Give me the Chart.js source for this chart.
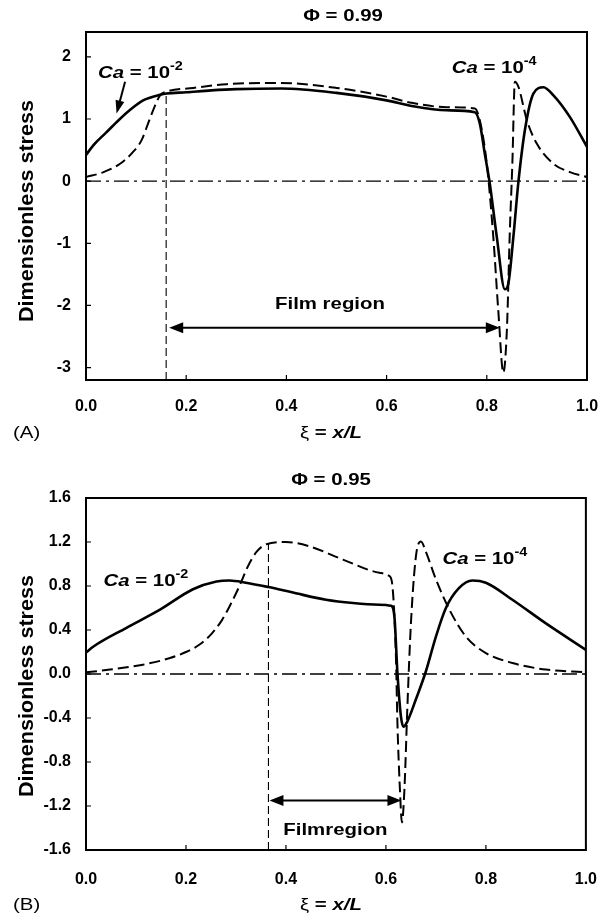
<!DOCTYPE html>
<html>
<head>
<meta charset="utf-8">
<script src="https://cdn.jsdelivr.net/npm/chart.js@4/dist/chart.umd.min.js"></script>
<style>
  body { margin: 0; background: #fff; }
  .panel { position: absolute; left: 0; width: 609px; height: 460px; }
</style>
</head>
<body>
<div class="panel" style="top:0"><canvas id="chartA" width="609" height="460"></canvas></div>
<div class="panel" style="top:460px"><canvas id="chartB" width="609" height="460"></canvas></div>
<script>
// ---- data ----
const xTicks = [0, 0.2, 0.4, 0.6, 0.8, 1.0];
const yTicksA = [-3, -2, -1, 0, 1, 2];
const yTicksB = [-1.6, -1.2, -0.8, -0.4, 0, 0.4, 0.8, 1.2, 1.6];

// (A) phi = 0.99
const solidAX = [0, 0.015, 0.04, 0.065, 0.09, 0.114, 0.148, 0.161, 0.2, 0.25, 0.3, 0.39, 0.5, 0.6, 0.65, 0.72, 0.776, 0.786, 0.796, 0.806, 0.82, 0.836, 0.843, 0.853, 0.863, 0.876, 0.893, 0.913, 0.933, 0.966, 1.0];
const solidAY = [0.42, 0.58, 0.78, 0.98, 1.16, 1.30, 1.39, 1.41, 1.43, 1.46, 1.48, 1.49, 1.42, 1.30, 1.21, 1.14, 1.11, 0.93, 0.44, -0.04, -0.90, -1.74, -1.65, -0.90, -0.02, 0.82, 1.41, 1.51, 1.38, 1.03, 0.55];
const dashAX = [0, 0.035, 0.068, 0.094, 0.111, 0.124, 0.138, 0.148, 0.161, 0.214, 0.281, 0.387, 0.5, 0.6, 0.65, 0.72, 0.776, 0.786, 0.80, 0.813, 0.823, 0.833, 0.84, 0.846, 0.851, 0.856, 0.863, 0.88, 0.90, 0.933, 0.966, 1.0];
const dashAY = [0.065, 0.145, 0.28, 0.47, 0.66, 0.93, 1.22, 1.38, 1.44, 1.50, 1.56, 1.58, 1.50, 1.36, 1.26, 1.19, 1.17, 0.98, 0.28, -0.90, -2.09, -3.08, -2.41, -0.80, 0.28, 1.60, 1.52, 0.98, 0.60, 0.28, 0.145, 0.065];

// (B) phi = 0.95
const solidBX = [0, 0.015, 0.081, 0.148, 0.214, 0.261, 0.287, 0.32, 0.365, 0.414, 0.48, 0.534, 0.587, 0.61, 0.617, 0.623, 0.63, 0.635, 0.643, 0.66, 0.68, 0.70, 0.72, 0.746, 0.773, 0.80, 0.853, 0.92, 1.0];
const solidBY = [0.196, 0.25, 0.42, 0.585, 0.77, 0.84, 0.85, 0.83, 0.79, 0.74, 0.675, 0.645, 0.63, 0.62, 0.52, 0.01, -0.385, -0.48, -0.43, -0.23, 0.025, 0.34, 0.60, 0.78, 0.85, 0.83, 0.675, 0.46, 0.22];
const dashBX = [0, 0.048, 0.114, 0.168, 0.2, 0.228, 0.252, 0.272, 0.29, 0.307, 0.324, 0.341, 0.361, 0.40, 0.447, 0.514, 0.587, 0.607, 0.613, 0.62, 0.623, 0.628, 0.632, 0.637, 0.643, 0.65, 0.66, 0.67, 0.68, 0.70, 0.727, 0.76, 0.80, 0.853, 0.92, 1.0];
const dashBY = [0.015, 0.04, 0.085, 0.145, 0.20, 0.27, 0.37, 0.49, 0.64, 0.80, 0.98, 1.11, 1.18, 1.20, 1.16, 1.04, 0.92, 0.89, 0.80, 0.16, -0.445, -1.05, -1.35, -1.05, -0.29, 0.46, 1.07, 1.205, 1.11, 0.86, 0.585, 0.34, 0.19, 0.10, 0.04, 0.015];

// film region boundaries [x start, x end, arrow height] and guide line [x, top y]
const filmA = [0.166, 0.826, -2.36];
const filmB = [0.367, 0.631, -1.15];
const guideA = [0.16, 1.40];
const guideB = [0.365, 1.19];

const FONT = '"Liberation Sans", Arial, Helvetica, sans-serif';
const SX = 1.2; // the source lettering is a bit wide
Chart.defaults.font.family = FONT;
Chart.defaults.color = '#000';

function pts(xs, ys) { return xs.map((x, i) => ({ x: x, y: ys[i] })); }

// draws a run of text pieces, stretched horizontally like the original
function richText(ctx, parts, x, y, align) {
  ctx.save();
  ctx.textBaseline = 'alphabetic';
  let total = 0;
  parts.forEach(p => { ctx.font = p.font; p.w = ctx.measureText(p.s).width * SX; total += p.w; });
  let cx = align === 'center' ? x - total / 2 : x;
  parts.forEach(p => {
    ctx.save();
    ctx.font = p.font;
    ctx.translate(cx, y + (p.dy || 0));
    ctx.scale(SX, 1);
    ctx.fillText(p.s, 0, 0);
    ctx.restore();
    cx += p.w;
  });
  ctx.restore();
}

function arrowHead(ctx, x1, y1, x2, y2, len, half) {
  const a = Math.atan2(y2 - y1, x2 - x1);
  ctx.beginPath();
  ctx.moveTo(x2, y2);
  ctx.lineTo(x2 - len * Math.cos(a) + half * Math.sin(a), y2 - len * Math.sin(a) - half * Math.cos(a));
  ctx.lineTo(x2 - len * Math.cos(a) - half * Math.sin(a), y2 - len * Math.sin(a) + half * Math.cos(a));
  ctx.closePath();
  ctx.fill();
}

const caLabel = (exp) => [
  { s: 'Ca', font: 'italic bold 17px ' + FONT },
  { s: ' = 10', font: 'bold 17px ' + FONT },
  { s: exp, font: 'bold 12px ' + FONT, dy: -8 }
];

const panelPlugin = {
  id: 'panel',
  afterDraw(chart) {
    const o = chart.options.plugins.panel;
    const ctx = chart.ctx;
    const xs = chart.scales.x, ys = chart.scales.y;
    const ca = chart.chartArea;
    ctx.save();
    ctx.fillStyle = '#000';
    ctx.strokeStyle = '#000';

    // frame and inward ticks
    ctx.lineWidth = 2;
    ctx.strokeRect(ca.left, ca.top, ca.right - ca.left, ca.bottom - ca.top);
    ctx.lineWidth = 1.2;
    ctx.beginPath();
    xs.ticks.forEach(t => { const p = xs.getPixelForValue(t.value); ctx.moveTo(p, ca.bottom); ctx.lineTo(p, ca.bottom - 5); });
    ys.ticks.forEach(t => { const p = ys.getPixelForValue(t.value); ctx.moveTo(ca.left, p); ctx.lineTo(ca.left + 5, p); });
    ctx.stroke();

    // film region double arrow
    const fy = ys.getPixelForValue(o.film[2]);
    const fx1 = xs.getPixelForValue(o.film[0]), fx2 = xs.getPixelForValue(o.film[1]);
    ctx.lineWidth = 2;
    ctx.beginPath(); ctx.moveTo(fx1 + 6, fy); ctx.lineTo(fx2 - 6, fy); ctx.stroke();
    arrowHead(ctx, fx2, fy, fx1, fy, 14, 5.5);
    arrowHead(ctx, fx1, fy, fx2, fy, 14, 5.5);

    // titles and labels
    richText(ctx, [{ s: 'Φ', font: 'bold 17px ' + FONT }, { s: ' = ' + o.phi, font: 'bold 17px ' + FONT }], o.titleX, o.titleY, 'center');
    richText(ctx, [{ s: '(' + o.tag + ')', font: '17px ' + FONT }], 13, o.xTitleY, 'left');
    richText(ctx, [
      { s: 'ξ', font: '17px ' + FONT },
      { s: ' = ', font: 'bold 17px ' + FONT },
      { s: 'x/L', font: 'italic bold 17px ' + FONT }
    ], 331, o.xTitleY, 'center');

    ctx.save();
    ctx.translate(27, o.yTitleY);
    ctx.rotate(-Math.PI / 2);
    ctx.font = 'bold 20px ' + FONT;
    ctx.textBaseline = 'middle';
    const sy = 1.08;
    const w = ctx.measureText('Dimensionless stress').width * sy;
    ctx.scale(sy, 1);
    ctx.fillText('Dimensionless stress', -w / 2 / sy, 0);
    ctx.restore();

    o.labels.forEach(l => {
      richText(ctx, l.parts, xs.getPixelForValue(l.x), ys.getPixelForValue(l.y), l.align || 'left');
    });

    if (o.pointer) {
      const p = o.pointer;
      const x1 = xs.getPixelForValue(p[0]), y1 = ys.getPixelForValue(p[1]);
      const x2 = xs.getPixelForValue(p[2]), y2 = ys.getPixelForValue(p[3]);
      ctx.lineWidth = 2;
      ctx.beginPath(); ctx.moveTo(x1, y1); ctx.lineTo(x2 + (x1 - x2) * 0.3, y2 + (y1 - y2) * 0.3); ctx.stroke();
      arrowHead(ctx, x1, y1, x2, y2, 13, 4.5);
    }
    ctx.restore();
  }
};

function makeChart(id, c) {
  const line = (data, extra) => Object.assign({
    data: data, borderColor: '#000', pointRadius: 0, fill: false, tension: 0
  }, extra);
  return new Chart(document.getElementById(id), {
    type: 'line',
    data: {
      datasets: [
        line(pts([0, 1], [0, 0]), { borderWidth: 1.3, borderDash: [15, 5, 3, 5] }),
        line(pts([c.guide[0], c.guide[0]], [c.yMin, c.guide[1]]), { borderWidth: 1.1, borderDash: [8, 4] }),
        line(pts(c.solidX, c.solidY), { borderWidth: 2.6, cubicInterpolationMode: 'monotone' }),
        line(pts(c.dashX, c.dashY), { borderWidth: 2, borderDash: [11, 5], cubicInterpolationMode: 'monotone' })
      ]
    },
    options: {
      responsive: false,
      animation: false,
      events: [],
      layout: { padding: { top: c.padTop, right: 22, left: 0, bottom: 0 } },
      scales: {
        x: {
          type: 'linear', min: 0, max: 1,
          grid: { display: false }, border: { display: false },
          afterBuildTicks: s => { s.ticks = xTicks.map(v => ({ value: v })); },
          afterFit: s => { s.height = c.xHeight; },
          ticks: { font: { size: 16, weight: 'bold' }, padding: c.xPad, maxRotation: 0, callback: v => v.toFixed(1) }
        },
        y: {
          type: 'linear', min: c.yMin, max: c.yMax,
          grid: { display: false }, border: { display: false },
          afterBuildTicks: s => { s.ticks = c.yTicks.map(v => ({ value: v })); },
          afterFit: s => { s.width = 86; },
          ticks: { font: { size: 16, weight: 'bold' }, padding: 7, callback: v => c.yFmt(v) }
        }
      },
      plugins: {
        legend: { display: false },
        tooltip: { enabled: false },
        panel: c.panel
      }
    },
    plugins: [panelPlugin]
  });
}

makeChart('chartA', {
  solidX: solidAX, solidY: solidAY, dashX: dashAX, dashY: dashAY,
  guide: guideA, yMin: -3.2, yMax: 2.4, yTicks: yTicksA, yFmt: v => String(Math.round(v)),
  padTop: 32, xHeight: 80, xPad: 9,
  panel: {
    phi: '0.99', tag: 'A', titleX: 343, titleY: 21, xTitleY: 438, yTitleY: 211,
    film: filmA,
    pointer: [0.078, 1.60, 0.061, 1.09],
    labels: [
      { parts: caLabel('-2'), x: 0.024, y: 1.656 },
      { parts: caLabel('-4'), x: 0.73, y: 1.74 },
      { parts: [{ s: 'Film region', font: 'bold 17px ' + FONT }], x: 0.487, y: -2.06, align: 'center' }
    ]
  }
});

makeChart('chartB', {
  solidX: solidBX, solidY: solidBY, dashX: dashBX, dashY: dashBY,
  guide: guideB, yMin: -1.6, yMax: 1.6, yTicks: yTicksB, yFmt: v => v.toFixed(1),
  padTop: 38, xHeight: 70, xPad: 12,
  panel: {
    phi: '0.95', tag: 'B', titleX: 331, titleY: 25, xTitleY: 450, yTitleY: 226,
    film: filmB,
    labels: [
      { parts: caLabel('-2'), x: 0.035, y: 0.80 },
      { parts: caLabel('-4'), x: 0.713, y: 1.0 },
      { parts: [{ s: 'Filmregion', font: 'bold 17px ' + FONT }], x: 0.499, y: -1.465, align: 'center' }
    ]
  }
});
</script>
</body>
</html>
